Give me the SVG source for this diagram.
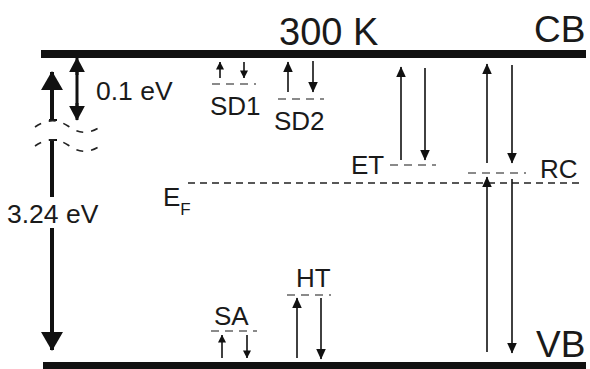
<svg xmlns="http://www.w3.org/2000/svg" width="590" height="369" viewBox="0 0 590 369">
<style>
text{font-family:"Liberation Sans",Arial,sans-serif;fill:#1a1a1a}
.band{stroke:#111;stroke-width:8}
.lvl{stroke:#8a8a8a;stroke-width:1.8;stroke-dasharray:8,6}
.ar{stroke:#111;stroke-width:1.6;fill:none}
.ars{stroke:#111;stroke-width:1.6;fill:none}
.brk{stroke:#222;stroke-width:1.6;fill:none;stroke-dasharray:7,8}
</style>
<defs>
<marker id="m" viewBox="0 0 10 10" refX="9.5" refY="5" markerWidth="11" markerHeight="10" markerUnits="userSpaceOnUse" orient="auto" preserveAspectRatio="none"><path d="M0,0L10,5L0,10z" fill="#111"/></marker>
<marker id="s" viewBox="0 0 10 10" refX="9.5" refY="5" markerWidth="8" markerHeight="8" markerUnits="userSpaceOnUse" orient="auto" preserveAspectRatio="none"><path d="M0,0L10,5L0,10z" fill="#111"/></marker>
<marker id="L" viewBox="0 0 10 10" refX="9.5" refY="5" markerWidth="19" markerHeight="22" markerUnits="userSpaceOnUse" orient="auto" preserveAspectRatio="none"><path d="M0,0L10,5L0,10z" fill="#111"/></marker>
<marker id="M" viewBox="0 0 10 10" refX="9.5" refY="5" markerWidth="15" markerHeight="16" markerUnits="userSpaceOnUse" orient="auto" preserveAspectRatio="none"><path d="M0,0L10,5L0,10z" fill="#111"/></marker>
</defs>
<g id="bands">
<line class="band" x1="41" y1="54" x2="586" y2="54"/>
<line class="band" x1="43" y1="366" x2="586" y2="366"/>
<text x="279" y="45" font-size="38">300 K</text>
<text x="534" y="42" font-size="37">CB</text>
<text x="536" y="357" font-size="37">VB</text>
</g>
<g id="gap-arrow">
<line x1="52" y1="120" x2="52" y2="72" stroke="#111" stroke-width="4" marker-end="url(#L)"/>
<line x1="49" y1="120" x2="57" y2="120" stroke="#111" stroke-width="2"/>
<line x1="52" y1="140" x2="52" y2="197" stroke="#111" stroke-width="4"/>
<line x1="49" y1="140" x2="57" y2="140" stroke="#111" stroke-width="2"/>
<line x1="52" y1="228" x2="52" y2="350" stroke="#111" stroke-width="4" marker-end="url(#L)"/>
<path class="brk" d="M35,127 C45,120 56,118 68,126 C78,133 88,136 103,125"/>
<path class="brk" d="M35,146 C45,139 56,137 68,145 C78,152 88,155 103,144"/>
<text x="7" y="223" font-size="26.5">3.24 eV</text>
</g>
<g id="small-gap">
<line x1="77" y1="70" x2="77" y2="108" stroke="#111" stroke-width="3"/>
<line x1="77" y1="75" x2="77" y2="58" stroke="#111" stroke-width="3" marker-end="url(#M)"/>
<line x1="77" y1="103" x2="77" y2="120" stroke="#111" stroke-width="3" marker-end="url(#M)"/>
<text x="96" y="100" font-size="26.5">0.1 eV</text>
</g>
<g id="fermi">
<line x1="188" y1="183" x2="584" y2="183" stroke="#222" stroke-width="1.6" stroke-dasharray="7,5"/>
<text x="163" y="206" font-size="26">E<tspan font-size="17" dy="9">F</tspan></text>
</g>
<g id="SD1">
<line class="lvl" x1="212" y1="84" x2="256" y2="84"/>
<line class="ars" x1="220" y1="78" x2="220" y2="62" marker-end="url(#s)"/>
<line class="ars" x1="244" y1="62" x2="244" y2="78" marker-end="url(#s)"/>
<text x="210" y="115" font-size="26">SD1</text>
</g>
<g id="SD2">
<line class="lvl" x1="278" y1="99" x2="324" y2="99"/>
<line class="ar" x1="288" y1="92" x2="288" y2="62" marker-end="url(#m)"/>
<line class="ar" x1="313" y1="61" x2="313" y2="92" marker-end="url(#m)"/>
<text x="274" y="130" font-size="26">SD2</text>
</g>
<g id="ET">
<line class="lvl" x1="390" y1="165" x2="436" y2="165"/>
<line class="ar" x1="401" y1="160" x2="401" y2="67" marker-end="url(#m)"/>
<line class="ar" x1="425" y1="68" x2="425" y2="160" marker-end="url(#m)"/>
<text x="351" y="174" font-size="26">ET</text>
</g>
<g id="RC">
<line class="lvl" x1="468" y1="173" x2="526" y2="173"/>
<line class="ar" x1="487" y1="163" x2="487" y2="64" marker-end="url(#m)"/>
<line class="ar" x1="512" y1="65" x2="512" y2="163" marker-end="url(#m)"/>
<line class="ar" x1="487" y1="352" x2="487" y2="177" marker-end="url(#m)"/>
<line class="ar" x1="512" y1="179" x2="512" y2="353" marker-end="url(#m)"/>
<text x="540" y="178" font-size="26">RC</text>
</g>
<g id="HT">
<line class="lvl" x1="287" y1="295" x2="331" y2="295"/>
<line class="ar" x1="297" y1="358" x2="297" y2="298" marker-end="url(#m)"/>
<line class="ar" x1="321" y1="298" x2="321" y2="359" marker-end="url(#m)"/>
<text x="296" y="287" font-size="26">HT</text>
</g>
<g id="SA">
<line class="lvl" x1="211" y1="331" x2="257" y2="331"/>
<line class="ars" x1="222" y1="358" x2="222" y2="335" marker-end="url(#s)"/>
<line class="ars" x1="247" y1="335" x2="247" y2="358" marker-end="url(#s)"/>
<text x="214" y="325" font-size="26">SA</text>
</g>
</svg>
